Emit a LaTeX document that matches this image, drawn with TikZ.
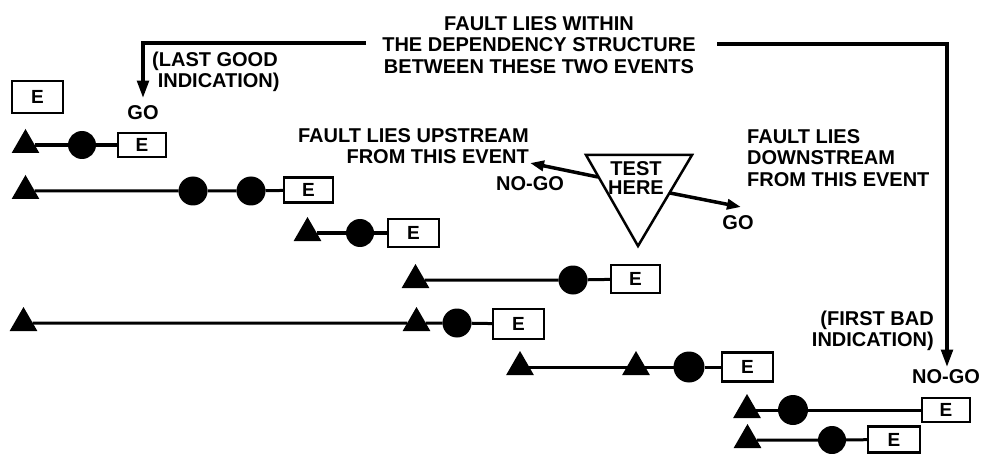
\documentclass[tikz,border=0pt]{standalone}
\usepackage{fontspec}
\setmainfont{Liberation Sans}
\usetikzlibrary{arrows.meta,shapes.geometric}
\tikzset{
  lbl/.style={font=\bfseries\fontsize{20}{21.5}\selectfont, inner sep=0pt},
  ebox/.style={draw, line width=2.4pt, inner sep=0pt, outer sep=0pt,
    font=\bfseries\fontsize{19}{19}\selectfont},
  tri/.style={regular polygon, regular polygon sides=3, fill=black,
    minimum size=32pt, inner sep=0pt, outer sep=0pt},
  dot/.style={circle, fill=black, minimum size=29pt, inner sep=0pt, outer sep=0pt},
  wire/.style={line width=3pt},
  bracket/.style={line width=4.5pt},
  bigtip/.style={-{Triangle[length=18pt,width=11pt]}},
  smalltip/.style={-{Triangle[length=14pt,width=10pt]}},
}
\begin{document}
\begin{tikzpicture}[x=1pt,y=-1pt]
\useasboundingbox (0,0) rectangle (981,454);

% ---- labels ----
\node[lbl, align=center] (toptext) at (539,45)
  {FAULT LIES WITHIN\\THE DEPENDENCY STRUCTURE\\BETWEEN THESE TWO EVENTS};
\node[lbl, align=left, anchor=west] (lastgood) at (152,72) {(LAST GOOD\\\ INDICATION)};
\node[lbl] (golbl) at (143,113) {GO};
\node[lbl, align=right, anchor=east] (upstream) at (529,146) {FAULT LIES UPSTREAM\\FROM THIS EVENT};
\node[lbl] (nogoL) at (530,184) {NO-GO};
\node[lbl, align=center, font=\bfseries\fontsize{20}{19}\selectfont] (testtxt) at (636,178) {TEST\\HERE};
\node[lbl] (goR) at (738,223) {GO};
\node[lbl, align=left, anchor=west] (downstream) at (747,158) {FAULT LIES\\DOWNSTREAM\\FROM THIS EVENT};
\node[lbl, align=right, anchor=east] (firstbad) at (934,331) {(FIRST BAD\\INDICATION)};
\node[lbl] (nogoR) at (946,377) {NO-GO};

% ---- brackets ----
\coordinate (lgStart) at (366,43);
\coordinate (rgStart) at (717,44);
\draw[bracket, bigtip, shorten >=7pt] (lgStart) -| (golbl.north);
\draw[bracket, bigtip, shorten >=2pt] (rgStart) -| ([xshift=1pt]nogoR.north);

% ---- test triangle ----
\coordinate (tA) at (586,155);
\coordinate (tB) at (692,155);
\coordinate (tC) at (638,246);
\draw[line width=2.5pt, line join=miter] (tA) -- (tB) -- (tC) -- cycle;
\coordinate (ngA) at (598,177);
\coordinate (ngB) at (530,163);
\coordinate (gA) at (670,193);
\coordinate (gB) at (741,207);
\draw[line width=3.5pt, smalltip] (ngA) -- (ngB);
\draw[line width=3.5pt, smalltip] (gA) -- (gB);

% ---- top-left event ----
\node[ebox, minimum width=51pt, minimum height=32pt] (e0) at (37.5,97) {E};

% ---- row 1 ----
\node[tri] (t1) at (25.5,145) {};
\node[dot, minimum size=28pt] (c1) at (82,145) {};
\node[ebox, minimum width=48pt, minimum height=24pt] (e1) at (142,145) {E};
\draw[wire, line width=4pt] (t1) -- (c1) -- (e1);

% ---- row 2 ----
\node[tri] (t2) at (25.5,191) {};
\node[dot] (c2a) at (193,191) {};
\node[dot] (c2b) at (251,191) {};
\node[ebox, minimum width=49pt, minimum height=25pt] (e2) at (308.5,190) {E};
\draw[wire] (t2) -- (c2a) -- (c2b) -- (e2);

% ---- row 3 ----
\node[tri] (t3) at (307.5,233) {};
\node[dot, minimum size=28pt] (c3) at (360,233) {};
\node[ebox, minimum width=51pt, minimum height=28pt] (e3) at (413.5,233) {E};
\draw[wire, line width=4pt] (t3) -- (c3) -- (e3);

% ---- row 4 ----
\node[tri] (t4) at (415.5,280) {};
\node[dot] (c4) at (573,280) {};
\node[ebox, minimum width=49pt, minimum height=28pt] (e4) at (635.5,279) {E};
\draw[wire] (t4) -- (c4) -- (e4);

% ---- row 5 ----
\node[tri] (t5a) at (23.5,323) {};
\node[tri] (t5b) at (416.5,323) {};
\node[dot] (c5) at (457,323) {};
\node[ebox, minimum width=51pt, minimum height=30pt] (e5) at (518.5,324) {E};
\draw[wire] (t5a) -- (t5b) -- (c5) -- (e5);

% ---- row 6 ----
\node[tri] (t6a) at (520,367) {};
\node[tri] (t6b) at (636,367) {};
\node[dot, minimum size=31pt] (c6) at (689,367) {};
\node[ebox, minimum width=51pt, minimum height=29pt] (e6) at (747.5,367) {E};
\draw[wire] (t6a) -- (t6b) -- (c6) -- (e6);

% ---- row 7 ----
\node[tri] (t7) at (747,410) {};
\node[dot, minimum size=30pt] (c7) at (793,410) {};
\node[ebox, minimum width=48pt, minimum height=24pt] (e7) at (946,410) {E};
\draw[wire] (t7) -- (c7) -- (e7);

% ---- row 8 ----
\node[tri] (t8) at (747.5,440) {};
\node[dot, minimum size=28pt] (c8) at (832,440) {};
\node[ebox, minimum width=52pt, minimum height=26pt] (e8) at (894,439.5) {E};
\draw[wire] (t8) -- (c8) -- (e8);
\end{tikzpicture}
\end{document}
